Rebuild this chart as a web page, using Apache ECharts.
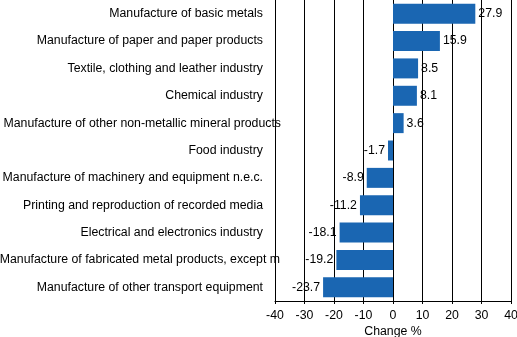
<!DOCTYPE html>
<html>
<head>
<meta charset="utf-8">
<style>
  html, body { margin: 0; padding: 0; background: #fff; }
  #chart { width: 517px; height: 337px; }
</style>
<script src="https://cdn.jsdelivr.net/npm/echarts@6/dist/echarts.min.js"></script>
</head>
<body>
<div id="chart"></div>
<script>
// Industries, top to bottom
const categories = [
  'Manufacture of basic metals',
  'Manufacture of paper and paper products',
  'Textile, clothing and leather industry',
  'Chemical industry',
  'Manufacture of other non-metallic mineral products',
  'Food industry',
  'Manufacture of machinery and equipment n.e.c.',
  'Printing and reproduction of recorded media',
  'Electrical and electronics industry',
  'Manufacture of fabricated metal products, except m',
  'Manufacture of other transport equipment'
];
// Change, %
const changes = [27.9, 15.9, 8.5, 8.1, 3.6, -1.7, -8.9, -11.2, -18.1, -19.2, -23.7];
const xTicks = [-40, -30, -20, -10, 0, 10, 20, 30, 40];

// Long names run further right than the rest
const labelKind = { 4: 'wide', 9: 'cut' };

const chart = echarts.init(document.getElementById('chart'), null, { renderer: 'canvas' });
const font = 'Liberation Sans, Arial, sans-serif';
const fs = 12.3;

chart.setOption({
  animation: false,
  grid: { left: 275, right: 6, top: 0, bottom: 36, containLabel: false, outerBoundsMode: 'none' },
  xAxis: {
    type: 'value',
    min: xTicks[0],
    max: xTicks[xTicks.length - 1],
    interval: 10,
    name: 'Change %',
    nameLocation: 'middle',
    nameGap: 25,
    nameMoveOverlap: false,
    nameTextStyle: { color: '#000', fontSize: fs, fontFamily: font, verticalAlign: 'top' },
    axisLine: { show: true, lineStyle: { color: '#000', width: 1 } },
    axisTick: { show: true, length: 3, lineStyle: { color: '#000' } },
    axisLabel: { color: '#000', fontSize: fs, fontFamily: font, margin: 9 },
    splitLine: { show: true, lineStyle: { color: '#000', width: 1 } }
  },
  yAxis: {
    type: 'category',
    inverse: true,
    data: categories,
    axisLine: { show: true, onZero: false, lineStyle: { color: '#000', width: 1 } },
    axisTick: { show: false },
    splitLine: { show: false },
    axisLabel: {
      margin: -6,
      interval: 0,
      color: '#000',
      fontSize: fs,
      fontFamily: font,
      formatter: function (value, index) {
        const kind = labelKind[index] || 'n';
        return '{' + kind + '|' + value + '}';
      },
      rich: {
        n: { fontSize: fs, fontFamily: font, color: '#000', padding: [0, 18, 0, 0] },
        wide: { fontSize: fs, fontFamily: font, color: '#000', padding: [0, 0, 0, 0] },
        cut: { fontSize: fs, fontFamily: font, color: '#000', padding: [0, 1, 0, 0] }
      }
    }
  },
  series: [{
    type: 'bar',
    data: changes.map(function (v) {
      // negative values carry their label on the left side of the bar
      return { value: v, label: { position: v < 0 ? 'left' : 'right' } };
    }),
    barCategoryGap: '27%',
    itemStyle: { color: '#1a66b2' },
    label: {
      show: true,
      color: '#000',
      fontSize: fs,
      fontFamily: font,
      distance: 3,
      formatter: function (p) { return String(p.value); }
    }
  }]
});
</script>
</body>
</html>
